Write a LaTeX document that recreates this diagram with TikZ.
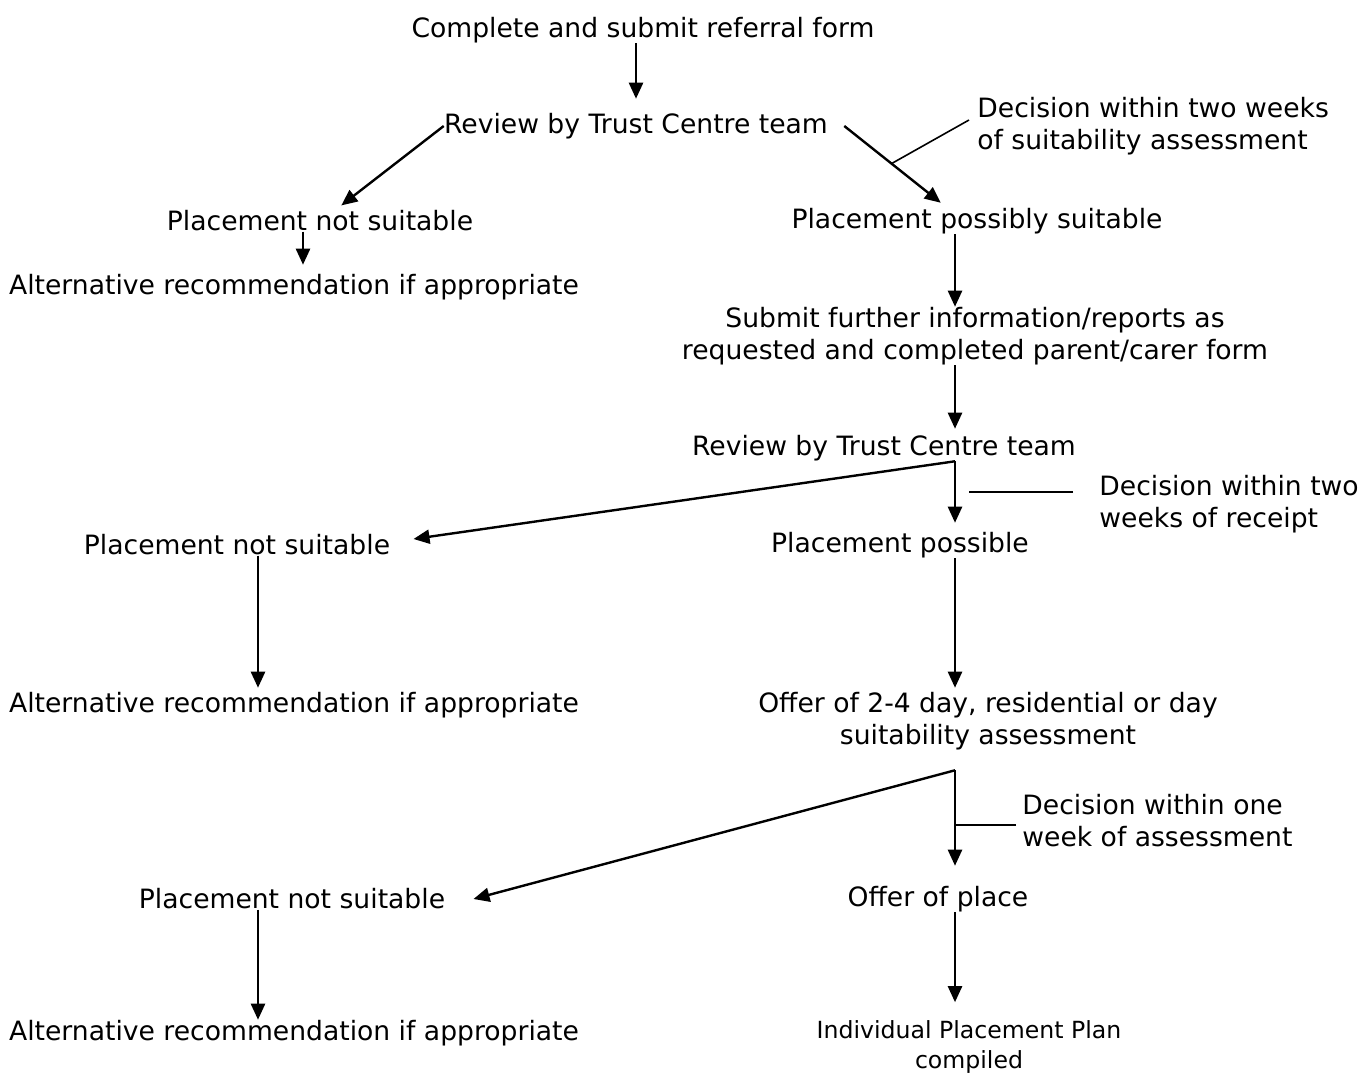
\documentclass[tikz,border=0pt]{standalone}
\usepackage{fontspec}
\setmainfont{DejaVu Sans}
\usetikzlibrary{arrows.meta,calc}

\begin{document}
\begin{tikzpicture}[x=0.5pt,y=-0.5pt,
  txt/.style={inner sep=0pt,align=center,font=\fontsize{13.3}{16}\selectfont},
  note/.style={txt,align=left,anchor=west},
  arr/.style={-{Triangle[length=8pt,width=7pt]},line width=1.2pt},
  lead/.style={line width=0.8pt}]
\useasboundingbox (0,0) rectangle (1360,1072);
\coordinate (axis) at (955,0);
\node[txt] (submitform) at (643,30) {Complete and submit referral form};
\node[txt] (review1) at (636,126) {Review by Trust Centre team};
\node[txt] (notsuit1) at (320,221) {Placement not suitable};
\node[txt] (alt1) at (294,287) {Alternative recommendation if appropriate};
\node[txt] (possibly) at (977,221) {Placement possibly suitable};
\node[note] (note1) at (977,126) {Decision within two weeks\\of suitability assessment};
\node[txt] (further) at (975,336) {Submit further information/reports as\\requested and completed parent/carer form};
\node[txt] (review2) at (884,448) {Review by Trust Centre team};
\node[note] (note2) at (1099,504) {Decision within two\\weeks of receipt};
\node[txt] (notsuit2) at (237,545) {Placement not suitable};
\node[txt] (possible) at (900,545) {Placement possible};
\node[txt] (alt2) at (294,705) {Alternative recommendation if appropriate};
\node[txt] (offer) at (988,721) {Offer of 2-4 day, residential or day\\suitability assessment};
\node[note] (note3) at (1022,821) {Decision within one\\week of assessment};
\node[txt] (notsuit3) at (292,899) {Placement not suitable};
\node[txt] (place) at (938,899) {Offer of place};
\node[txt] (alt3) at (294,1033) {Alternative recommendation if appropriate};
\node[txt,font=\fontsize{11.8}{15}\selectfont] (plan) at (969,1047) {Individual Placement Plan\\compiled};

\draw[arr,shorten >=7pt] (submitform.south -| review1) -- (review1.north);
\draw[arr,shorten >=4pt] (review1.west) -- ([xshift=7.5pt]notsuit1.north);
\coordinate (r1e) at ([xshift=8pt]review1.east);
\coordinate (p1n) at ([xshift=-15pt]possibly.north);
\draw[arr,shorten >=4pt] (r1e) -- (p1n);
\coordinate (k1) at ($(r1e)!0.46!(p1n)$);
\draw[lead] (k1) -- ([xshift=-4pt,yshift=3pt]note1.west);
\draw[arr,shorten >=4.5pt] ([xshift=-8.5pt]notsuit1.south) -- ([xshift=4.5pt]alt1.north);
\draw[arr] (possibly.south -| axis) -- (further.north -| axis);
\draw[arr,shorten >=3pt] (further.south -| axis) -- (review2.north -| axis);

\coordinate (b2) at (review2.south -| axis);
\draw[arr,shorten >=4.5pt] (b2) -- (possible.north -| axis);
\draw[arr] (b2) -- ([xshift=11.5pt,yshift=3pt]notsuit2.east);
\draw[lead] ([xshift=-13pt,yshift=6pt]note2.west) -- ++(-52pt,0);
\coordinate (n2s) at ([xshift=10.5pt]notsuit2.south);
\draw[arr,shorten >=2pt] (n2s) -- (alt2.north -| n2s);
\draw[arr,shorten >=2pt] (possible.south -| axis) -- (offer.north -| axis);

\coordinate (b3) at ([yshift=-10pt]offer.south -| axis);
\draw[arr,shorten >=10pt] (b3) -- (place.north -| axis);
\draw[arr] (b3) -- ([xshift=14pt]notsuit3.east);
\draw[lead] ([xshift=-3pt,yshift=-2pt]note3.west) -- ++(-30.5pt,0);
\coordinate (n3s) at ([xshift=-17pt]notsuit3.south);
\draw[arr] (n3s) -- (alt3.north -| n3s);
\draw[arr,shorten >=9pt] (place.south -| axis) -- (plan.north -| axis);
\end{tikzpicture}
\end{document}
